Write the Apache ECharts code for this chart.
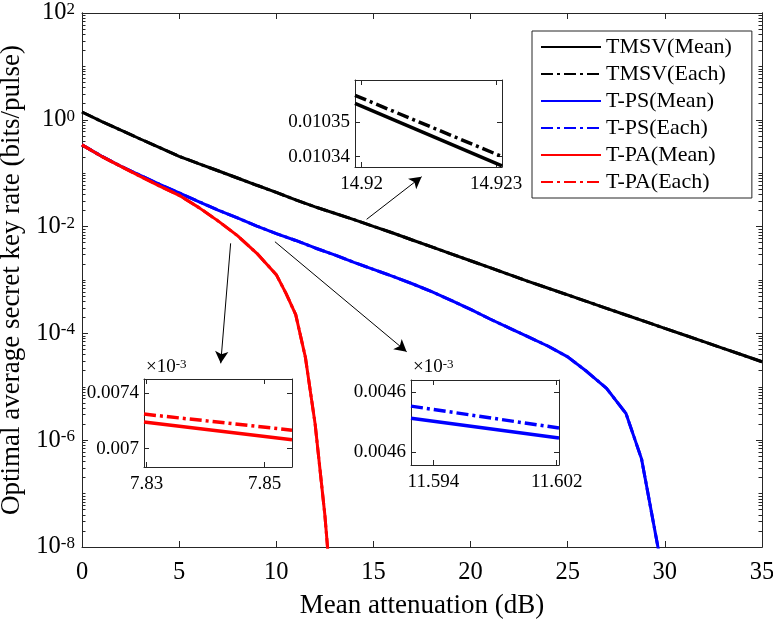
<!DOCTYPE html>
<html>
<head>
<meta charset="utf-8">
<script src="https://cdn.jsdelivr.net/npm/echarts@6/dist/echarts.min.js"></script>
<style>
html, body { margin: 0; padding: 0; background: #fff; }
#chart { width: 773px; height: 621px; }
</style>
</head>
<body>
<div id="chart"></div>
<script>
// main curves
const attenuation = [0, 1, 2, 3, 4, 5, 6, 7, 8, 9, 10, 11, 12, 13, 14, 15, 16, 17, 18, 19, 20,
  21, 22, 23, 24, 25, 26, 27, 28, 29, 30, 31, 32, 33, 34, 35]
const tmsvMean = [1.40, 0.933, 0.638, 0.437, 0.302, 0.207, 0.151, 0.111, 0.0813, 0.0594, 0.0437,
  0.0316, 0.0234, 0.0178, 0.0135, 0.0101, 7.59e-3, 5.62e-3, 4.17e-3, 3.09e-3, 2.29e-3, 1.70e-3,
  1.26e-3, 9.33e-4, 7.00e-4, 5.25e-4, 3.94e-4, 2.95e-4, 2.21e-4, 1.66e-4, 1.24e-4, 9.33e-5,
  7.00e-5, 5.25e-5, 3.94e-5, 2.95e-5]

const psAttenuation = [0, 1, 2, 3, 4, 5, 6, 7, 8, 9, 10, 11, 12, 13, 14, 15, 16, 17, 18, 19, 20,
  21, 22, 23, 24, 25, 26, 27, 28, 28.8, 30]
const psMean = [0.339, 0.209, 0.135, 0.0912, 0.0617, 0.0427, 0.0295, 0.0204, 0.0145, 0.0102,
  7.41e-3, 5.50e-3, 3.98e-3, 2.95e-3, 2.14e-3, 1.58e-3, 1.17e-3, 8.51e-4, 6.03e-4, 4.17e-4,
  2.82e-4, 1.86e-4, 1.26e-4, 8.51e-5, 5.75e-5, 3.63e-5, 1.91e-5, 9.33e-6, 3.16e-6, 4.47e-7, 2.0e-9]

const paAttenuation = [0, 1, 2, 3, 4, 5, 6, 7, 8, 9, 10, 10.5, 11, 11.5, 12, 12.5, 13]
const paMean = [0.339, 0.207, 0.134, 0.0871, 0.0575, 0.0385, 0.0229, 0.0128, 6.76e-3, 3.16e-3,
  1.26e-3, 5.62e-4, 2.24e-4, 3.55e-5, 2.0e-6, 3.98e-8, 2.5e-10]

// at full scale the "Each" curves sit on top of the "Mean" curves
const tmsvEach = tmsvMean
const psEach = psMean
const paEach = paMean

// zoomed insets
const tmsvZoomX = [14.91985, 14.92313]
const tmsvZoomMean = [0.0103553, 0.0103373]
const tmsvZoomEach = [0.0103576, 0.0103400]
const paZoomX = [7.82954, 7.85462]
const paZoomMean = [0.007191, 0.007064]
const paZoomEach = [0.007247, 0.007132]
const psZoomX = [11.59255, 11.60215]
const psZoomMean = [0.0046063, 0.0045997]
const psZoomEach = [0.0046103, 0.0046030]

// ticks
const xTicks = [0, 5, 10, 15, 20, 25, 30, 35]
const yTicks = [1e-8, 1e-6, 1e-4, 1e-2, 1, 1e2]
const tmsvZoomXTicks = [14.92, 14.923]
const tmsvZoomYTicks = [0.01034, 0.01035]
const paZoomXTicks = [7.83, 7.85]
const paZoomYTicks = [0.007, 0.0074]
const psZoomXTicks = [11.594, 11.602]
const psZoomYTicks = [0.004595, 0.004615]

const font = 'Liberation Serif'
const axisColor = '#262626'

let yMinor = []
for (let k = -8; k < 2; k++) {
  for (let m = 1; m < 10; m++) {
    if (m === 1 && k % 2 === 0) continue
    yMinor.push(Number((m * Math.pow(10, k)).toPrecision(3)))
  }
}

function pairs(xs, ys) {
  return xs.map((x, i) => [x, ys[i]])
}

function xAxisOf(grid, pos, min, max, ticks, labels, extra) {
  return Object.assign({
    type: 'value', gridIndex: grid, position: pos, min: min, max: max,
    axisLine: { show: true, onZero: false, lineStyle: { color: axisColor, width: 1 } },
    axisTick: { inside: true, length: 5, customValues: ticks, lineStyle: { color: axisColor } },
    axisLabel: { show: labels, customValues: ticks, color: '#000', fontFamily: font, fontSize: 19, margin: 8 },
    splitLine: { show: false }
  }, extra || {})
}

function yAxisOf(grid, pos, min, max, ticks, labels, extra) {
  return Object.assign({
    type: 'value', gridIndex: grid, position: pos, min: min, max: max,
    axisLine: { show: true, onZero: false, lineStyle: { color: axisColor, width: 1 } },
    axisTick: { inside: true, length: 5, customValues: ticks, lineStyle: { color: axisColor } },
    axisLabel: { show: labels, customValues: ticks, color: '#000', fontFamily: font, fontSize: 19, margin: 5 },
    splitLine: { show: false }
  }, extra || {})
}

function logAxis(pos, ticks, len, labels) {
  return {
    type: 'log', logBase: 10, gridIndex: 0, position: pos, min: 1e-8, max: 1e2,
    axisLine: { show: true, lineStyle: { color: axisColor, width: 1 } },
    axisTick: { inside: true, length: len, customValues: ticks, lineStyle: { color: axisColor } },
    axisLabel: {
      show: labels, customValues: ticks, margin: 7,
      formatter: v => '{b|10}{e|' + Math.round(Math.log10(v)) + '}',
      rich: {
        b: { fontFamily: font, fontSize: 24.5, color: '#000', lineHeight: 24 },
        e: { fontFamily: font, fontSize: 17, color: '#000', verticalAlign: 'top', lineHeight: 15 }
      }
    },
    splitLine: { show: false }
  }
}

const colors = { tmsv: '#000000', ps: '#0000ff', pa: '#ff0000' }
const dashDot = [12, 4, 3, 4]

function line(name, xs, ys, color, dashed, xi, yi, width) {
  return {
    name: name, type: 'line', xAxisIndex: xi, yAxisIndex: yi,
    data: pairs(xs, ys), symbol: 'none', showSymbol: false, clip: true, silent: true,
    lineStyle: { color: color, width: width || 3, type: dashed ? dashDot : 'solid' },
    itemStyle: { color: color }
  }
}

const arrowStyle = { color: '#000', width: 1, type: 'solid' }
const titleStyle = { fontFamily: font, fontSize: 27, color: '#000' }
const insetGrid = { show: true, backgroundColor: '#fff', borderWidth: 0, containLabel: false, outerBoundsMode: 'none' }

const option = {
  backgroundColor: '#fff',
  animation: false,
  textStyle: { fontFamily: font },
  grid: [
    { left: 82, right: 11, top: 13, bottom: 74, containLabel: false, outerBoundsMode: 'none' },
    Object.assign({ left: 355, top: 80, width: 147, height: 87 }, insetGrid),
    Object.assign({ left: 144, top: 379, width: 148, height: 88 }, insetGrid),
    Object.assign({ left: 411, top: 380, width: 148, height: 85 }, insetGrid)
  ],
  legend: {
    orient: 'vertical', left: 532, top: 31,
    itemWidth: 60, itemHeight: 14, itemGap: 5,
    padding: [5, 20, 5, 8],
    borderColor: axisColor, borderWidth: 1, backgroundColor: '#fff',
    itemStyle: { opacity: 0, borderWidth: 0 },
    textStyle: { fontFamily: font, fontSize: 22, color: '#000' },
    data: ['TMSV(Mean)', 'TMSV(Each)', 'T-PS(Mean)', 'T-PS(Each)', 'T-PA(Mean)', 'T-PA(Each)']
  },
  xAxis: [
    xAxisOf(0, 'bottom', 0, 35, xTicks, true, {
      axisTick: { inside: true, length: 6, customValues: xTicks, lineStyle: { color: axisColor } },
      axisLabel: { customValues: xTicks, color: '#000', fontFamily: font, fontSize: 24.5, margin: 13 },
      name: 'Mean attenuation (dB)', nameLocation: 'middle', nameGap: 45,
      nameTextStyle: titleStyle
    }),
    xAxisOf(0, 'top', 0, 35, xTicks, false, {
      axisTick: { inside: true, length: 6, customValues: xTicks, lineStyle: { color: axisColor } }
    }),
    xAxisOf(1, 'bottom', tmsvZoomX[0], tmsvZoomX[1], tmsvZoomXTicks, true),
    xAxisOf(1, 'top', tmsvZoomX[0], tmsvZoomX[1], tmsvZoomXTicks, false),
    xAxisOf(2, 'bottom', paZoomX[0], paZoomX[1], paZoomXTicks, true),
    xAxisOf(2, 'top', paZoomX[0], paZoomX[1], paZoomXTicks, false),
    xAxisOf(3, 'bottom', psZoomX[0], psZoomX[1], psZoomXTicks, true),
    xAxisOf(3, 'top', psZoomX[0], psZoomX[1], psZoomXTicks, false)
  ],
  yAxis: [
    Object.assign(logAxis('left', yTicks, 6, true), {
      name: 'Optimal average secret key rate (bits/pulse)', nameLocation: 'middle', nameGap: 47,
      nameRotate: 90, nameTextStyle: titleStyle
    }),
    logAxis('left', yMinor, 3.5, false),
    logAxis('right', yTicks, 6, false),
    logAxis('right', yMinor, 3.5, false),
    yAxisOf(1, 'left', 0.010337, 0.010362, tmsvZoomYTicks, true),
    yAxisOf(1, 'right', 0.010337, 0.010362, tmsvZoomYTicks, false),
    yAxisOf(2, 'left', 0.006868, 0.0074986, paZoomYTicks, true),
    yAxisOf(2, 'right', 0.006868, 0.0074986, paZoomYTicks, false),
    yAxisOf(3, 'left', 0.0045907, 0.004619, psZoomYTicks, true, {
      axisLabel: { customValues: psZoomYTicks, color: '#000', fontFamily: font, fontSize: 19, margin: 5,
        formatter: v => v.toFixed(4) }
    }),
    yAxisOf(3, 'right', 0.0045907, 0.004619, psZoomYTicks, false)
  ],
  series: [
    line('TMSV(Mean)', attenuation, tmsvMean, colors.tmsv, false, 0, 0),
    line('TMSV(Each)', attenuation, tmsvEach, colors.tmsv, true, 0, 0),
    line('T-PS(Mean)', psAttenuation, psMean, colors.ps, false, 0, 0),
    line('T-PS(Each)', psAttenuation, psEach, colors.ps, true, 0, 0),
    line('T-PA(Mean)', paAttenuation, paMean, colors.pa, false, 0, 0),
    Object.assign(line('T-PA(Each)', paAttenuation, paEach, colors.pa, true, 0, 0), {
      markLine: {
        silent: true, symbol: ['none', 'arrow'], symbolSize: [10, 12],
        label: { show: false }, lineStyle: arrowStyle, animation: false,
        data: [
          [{ coord: [14.65, 0.0137] }, { coord: [17.48, 0.0859] }],
          [{ coord: [7.65, 0.00486] }, { coord: [7.14, 2.75e-5] }],
          [{ coord: [9.93, 0.00521] }, { coord: [16.71, 4.54e-5] }]
        ]
      }
    }),
    line('TMSV(Mean)', tmsvZoomX, tmsvZoomMean, colors.tmsv, false, 2, 4, 3.5),
    line('TMSV(Each)', tmsvZoomX, tmsvZoomEach, colors.tmsv, true, 2, 4, 3.5),
    line('T-PA(Mean)', paZoomX, paZoomMean, colors.pa, false, 4, 6, 3.5),
    line('T-PA(Each)', paZoomX, paZoomEach, colors.pa, true, 4, 6, 3.5),
    line('T-PS(Mean)', psZoomX, psZoomMean, colors.ps, false, 6, 8, 3.5),
    line('T-PS(Each)', psZoomX, psZoomEach, colors.ps, true, 6, 8, 3.5)
  ],
  graphic: [
    {
      type: 'text', left: 146, top: 358,
      style: {
        text: '{a|×10}{b|-3}',
        rich: {
          a: { fontFamily: font, fontSize: 19, fill: '#000' },
          b: { fontFamily: font, fontSize: 13, fill: '#000', verticalAlign: 'top' }
        }
      }
    },
    {
      type: 'text', left: 413, top: 358,
      style: {
        text: '{a|×10}{b|-3}',
        rich: {
          a: { fontFamily: font, fontSize: 19, fill: '#000' },
          b: { fontFamily: font, fontSize: 13, fill: '#000', verticalAlign: 'top' }
        }
      }
    }
  ]
}

const chart = echarts.init(document.getElementById('chart'))
chart.setOption(option)
</script>
</body>
</html>
